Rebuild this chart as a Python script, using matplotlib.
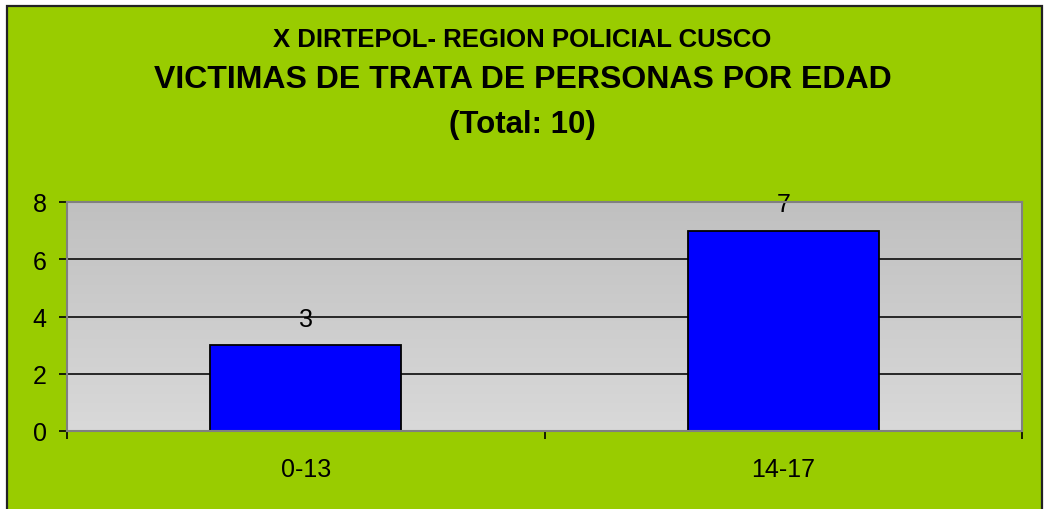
import matplotlib
matplotlib.use("Agg")
import matplotlib.pyplot as plt
import numpy as np
from matplotlib.patches import Rectangle

categories = ["0-13", "14-17"]
values = [3, 7]
yticks = [0, 2, 4, 6, 8]
title1 = "X DIRTEPOL- REGION POLICIAL CUSCO"
title2 = "VICTIMAS DE TRATA DE PERSONAS POR EDAD"
title3 = "(Total: 10)"

plt.rcParams['font.family'] = ['Liberation Sans', 'DejaVu Sans']

W, H = 1045, 510
fig = plt.figure(figsize=(W / 100, H / 100), dpi=100, facecolor="white")

# green chart area with black border
bg = Rectangle((7 / W, -0.01), (1042 - 7) / W, (H - 7) / H + 0.01,
               transform=fig.transFigure, facecolor="#99CC00",
               edgecolor="#222222", linewidth=1.6, zorder=-10)
fig.patches.append(bg)

fig.text(0.5, 1 - 40 / H, title1, ha="center", va="center",
         fontsize=18.5, fontweight="bold")
fig.text(0.5, 1 - 80.5 / H, title2, ha="center", va="center",
         fontsize=23, fontweight="bold")
fig.text(0.5, 1 - 124.5 / H, title3, ha="center", va="center",
         fontsize=22.5, fontweight="bold")

ax = fig.add_axes([67 / W, (H - 432) / H, (1022 - 67) / W, (432 - 203) / H])
ax.set_facecolor("none")

# gradient background of plot area
grad = np.linspace(0, 1, 256).reshape(-1, 1)
ax.imshow(grad, extent=[0, 1, 0, 1], transform=ax.transAxes,
          cmap=matplotlib.colors.LinearSegmentedColormap.from_list(
              "g", ["#C0C0C0", "#D9D9D9"]),
          aspect="auto", zorder=0)

x = np.arange(len(categories))
ax.bar(x, values, width=0.4, color="#0000FF", edgecolor="black",
       linewidth=1.3, zorder=3)

for xi, v in zip(x, values):
    ax.annotate(str(v), (xi, v), xytext=(0, 10.5), textcoords="offset points",
                ha="center", va="bottom", fontsize=18, zorder=4)

ax.set_xlim(-0.5, len(categories) - 0.5)
ax.set_ylim(0, 8)
ax.set_yticks(yticks)
ax.set_yticklabels([str(t) for t in yticks])
ax.set_xticks(x)
ax.set_xticklabels(categories)
ax.set_xticks(np.arange(-0.5, len(categories)), minor=True)

for yv in yticks[1:-1]:
    ax.axhline(yv, color="#1a1a1a", linewidth=1.3, zorder=2)

ax.tick_params(axis="x", which="major", length=0, pad=18.5, labelsize=18)
ax.tick_params(axis="x", which="minor", length=6, width=1.2, color="black",
               direction="out")
ax.tick_params(axis="y", length=6, width=1.2, color="black", pad=8.5,
               labelsize=18)

for s in ax.spines.values():
    s.set_color("#808080")
    s.set_linewidth(1.5)
    s.set_zorder(5)

fig.savefig("out.png", dpi=100, facecolor="white")
